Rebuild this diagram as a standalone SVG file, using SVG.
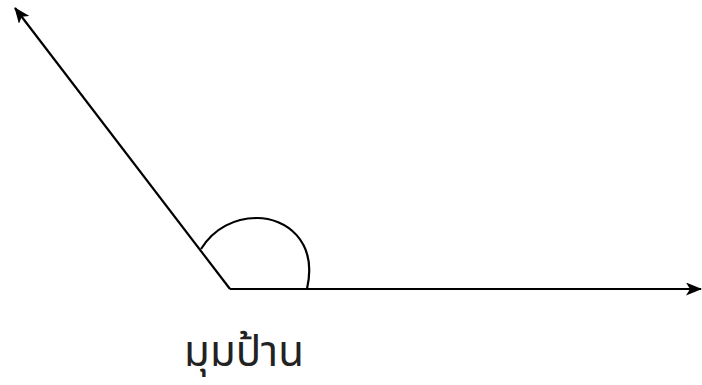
<svg xmlns="http://www.w3.org/2000/svg" width="702" height="385" viewBox="0 0 702 385">
<defs>
<style>
.ln{stroke:#000;stroke-width:2.2;fill:none}
.lbl{font-family:"Noto Sans Thai","Noto Sans","DejaVu Sans",sans-serif;font-size:42px;fill:#222;text-anchor:middle}
</style>
<marker id="ah" viewBox="0 0 16 13" refX="15" refY="6.5" markerWidth="16" markerHeight="13" markerUnits="userSpaceOnUse" orient="auto">
<path d="M0,0 L16,6.5 L0,13 L4,6.5 Z" fill="#000"/>
</marker>
</defs>
<rect width="702" height="385" fill="#fff"/>
<g id="connectors">
<line class="ln" x1="230" y1="289" x2="701" y2="289" marker-end="url(#ah)"/>
<line class="ln" x1="230" y1="289" x2="15" y2="8" marker-end="url(#ah)"/>
</g>
<g id="arc">
<path class="ln" d="M201,249 C214,228 235,218 257,218 C285,218 318,240 307,289"/>
</g>
<g id="label">
<text class="lbl" x="244" y="366">มุมป้าน</text>
</g>
</svg>
